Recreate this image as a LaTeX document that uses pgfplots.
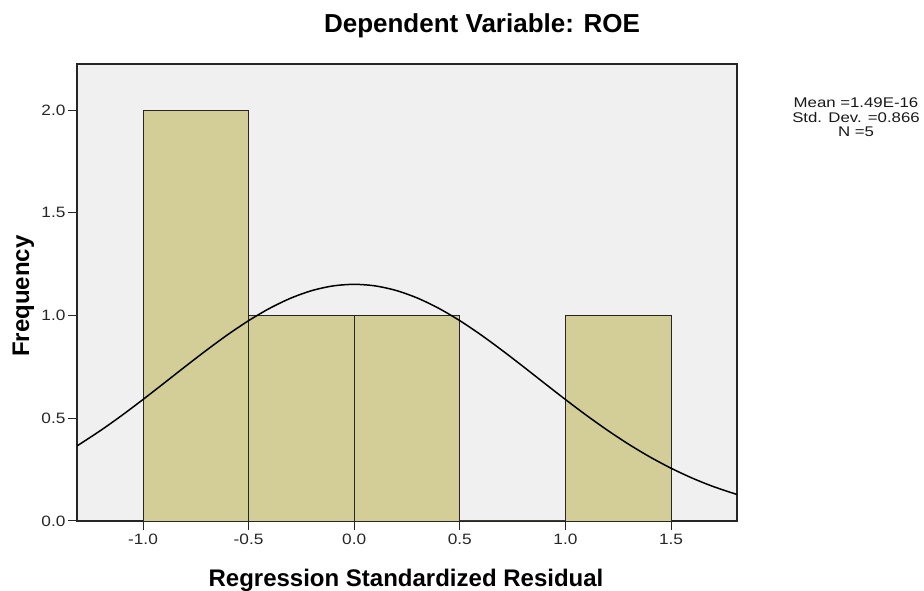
\documentclass[border=0pt]{standalone}
\usepackage{pgfplots}
\pgfplotsset{compat=1.18}
\usepackage{fontspec}
\setmainfont{Liberation Sans}
\newfontfamily\tickfont[FakeStretch=1.15]{Liberation Sans}
\newfontfamily\statfont[FakeStretch=1.2]{Liberation Sans}
\definecolor{bg}{RGB}{240,240,240}
\definecolor{barfill}{RGB}{211,206,151}
\begin{document}
\begin{tikzpicture}[x=1pt,y=1pt]
\path[use as bounding box] (0,0) rectangle (924,591);
\begin{axis}[
  at={(77pt,70pt)}, anchor=south west,
  scale only axis, width=660pt, height=457pt,
  xmin=-1.3125, xmax=1.8125, ymin=0, ymax=2.224,
  axis background/.style={fill=bg},
  axis line style={line width=1.6pt, draw=black!85},
  xtick={-1,-0.5,0,0.5,1,1.5},
  xticklabels={-1.0,-0.5,0.0,0.5,1.0,1.5},
  ytick={0,0.5,1,1.5,2},
  yticklabels={0.0,0.5,1.0,1.5,2.0},
  tick align=outside, tick pos=left,
  major tick length=9pt,
  tick style={line width=1pt, black!85},
  ticklabel style={font=\tickfont\fontsize{15}{17}\selectfont, text=black!85},
  xticklabel style={text height=11pt, text depth=0pt},
  yticklabel style={xshift=1pt},
  clip=true,
]
\addplot[ybar interval, fill=barfill, draw=black!85, line width=0.9pt]
  coordinates {(-1,2) (-0.5,1) (0,1) (0.5,0) (1,1) (1.5,0)};
\addplot[smooth, black, line width=1.5pt] coordinates {
(-1.3125,0.3652) (-1.2,0.4410) (-1.1,0.5140) (-1.0,0.5913) (-0.9,0.6711)
(-0.8,0.7517) (-0.7,0.8307) (-0.6,0.9060) (-0.5,0.9749) (-0.4,1.0352)
(-0.3,1.0846) (-0.2,1.1214) (-0.1,1.1440) (0,1.1517) (0.1,1.1440)
(0.2,1.1214) (0.3,1.0846) (0.4,1.0352) (0.5,0.9749) (0.6,0.9060)
(0.7,0.8307) (0.8,0.7517) (0.9,0.6711) (1.0,0.5913) (1.1,0.5140)
(1.2,0.4410) (1.3,0.3733) (1.4,0.3118) (1.5,0.2570) (1.6,0.2090)
(1.7,0.1677) (1.8125,0.1289)};
\end{axis}
\node[font=\bfseries\fontsize{26}{30}\selectfont, anchor=base] at (482,558) {Dependent Variable: ROE};
\node[font=\bfseries\fontsize{24}{28}\selectfont, anchor=base] at (406,4) {Regression Standardized Residual};
\node[font=\bfseries\fontsize{24}{28}\selectfont, anchor=base, rotate=90] at (29,295) {Frequency};
\node[font=\statfont\fontsize{14}{14.5}\selectfont, align=center, anchor=base, text=black!90] at (856,454) {Mean =1.49E-16\\Std. Dev. =0.866\\N =5};
\end{tikzpicture}
\end{document}
